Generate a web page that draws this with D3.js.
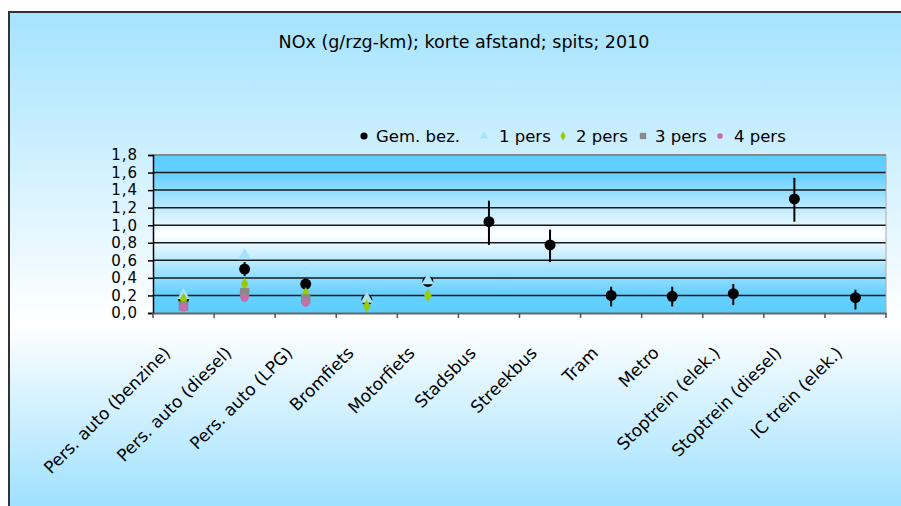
<!DOCTYPE html>
<html><head><meta charset="utf-8">
<script src="https://cdn.jsdelivr.net/npm/d3@7"></script>
<style>body{margin:0;background:#fff;overflow:hidden}svg{display:block}text{font-family:"DejaVu Sans",sans-serif}</style>
</head><body><svg id="c" width="901" height="506"></svg>
<script>
const title = "NOx (g/rzg-km); korte afstand; spits; 2010";
const categories = ["Pers. auto (benzine)","Pers. auto (diesel)","Pers. auto (LPG)","Bromfiets","Motorfiets","Stadsbus","Streekbus","Tram","Metro","Stoptrein (elek.)","Stoptrein (diesel)","IC trein (elek.)"];
const gemBez   = [0.16, 0.50, 0.33, 0.15, 0.36, 1.04, 0.775, 0.20, 0.19, 0.22, 1.30, 0.175];
const gemLow   = [0.13, 0.42, 0.28, 0.13, 0.34, 0.775, 0.58, 0.075, 0.075, 0.09, 1.04, 0.04];
const gemHigh  = [0.19, 0.58, 0.39, 0.17, 0.38, 1.28, 0.95, 0.30, 0.30, 0.33, 1.54, 0.265];
const pers1 = [0.20, 0.655, 0.46, 0.16, 0.37, null, null, null, null, null, null, null];
const pers2 = [0.155, 0.33, 0.22, 0.08, 0.20, null, null, null, null, null, null, null];
const pers3 = [0.08, 0.23, 0.16, null, null, null, null, null, null, null, null, null];
const pers4 = [0.065, 0.175, 0.12, null, null, null, null, null, null, null, null, null];
const seriesNames = ["Gem. bez.","1 pers","2 pers","3 pers","4 pers"];
const yTicks = [0,0.2,0.4,0.6,0.8,1.0,1.2,1.4,1.6,1.8];

const svg = d3.select("#c");
const defs = svg.append("defs");
const bg = defs.append("linearGradient").attr("id","bg").attr("gradientUnits","userSpaceOnUse")
  .attr("x1",0).attr("y1",12).attr("x2",0).attr("y2",506);
bg.append("stop").attr("offset","0%").attr("stop-color","#a5e3ff");
bg.append("stop").attr("offset","63%").attr("stop-color","#ffffff");
bg.append("stop").attr("offset","100%").attr("stop-color","#9fe1ff");
const pg = defs.append("linearGradient").attr("id","pg").attr("x1",0).attr("y1",0).attr("x2",0).attr("y2",1);
pg.append("stop").attr("offset","0%").attr("stop-color","#5ccdfe");
pg.append("stop").attr("offset","12%").attr("stop-color","#66d0ff");
pg.append("stop").attr("offset","50%").attr("stop-color","#ffffff");
pg.append("stop").attr("offset","88%").attr("stop-color","#66d0ff");
pg.append("stop").attr("offset","100%").attr("stop-color","#5ccdfe");

svg.append("rect").attr("x",9).attr("y",12).attr("width",1000).attr("height",600)
  .attr("fill","url(#bg)").attr("stroke","#333").attr("stroke-width",2);

svg.append("text").attr("x",464).attr("y",48).attr("text-anchor","middle")
  .attr("font-size",17.5).attr("fill","#000").text(title);

const L=153, R=886, T=155, B=313;
const x = d3.scaleBand().domain(categories).range([L,R]);
const y = d3.scaleLinear().domain([0,1.8]).range([B,T]);

svg.append("rect").attr("x",L).attr("y",T).attr("width",R-L).attr("height",B-T).attr("fill","url(#pg)");
const g = svg.append("g");
g.selectAll("line.grid").data(yTicks.filter(d=>d>0 && d<1.8)).join("line")
  .attr("x1",L).attr("x2",R).attr("y1",d=>y(d)).attr("y2",d=>y(d))
  .attr("stroke","#1a1a1a").attr("stroke-width",1.5);
g.append("line").attr("x1",L).attr("x2",R).attr("y1",T).attr("y2",T).attr("stroke","#888").attr("stroke-width",2);
g.append("line").attr("x1",R).attr("x2",R).attr("y1",T).attr("y2",B).attr("stroke","#aaa").attr("stroke-width",1);

// axes
const yAxis = d3.axisLeft(y).tickValues(yTicks).tickSize(5).tickPadding(10)
  .tickFormat(d=>d3.format(".1f")(d).replace(".",","));
const ya = svg.append("g").attr("transform",`translate(${L},0)`).call(yAxis);
ya.select(".domain").attr("stroke","#000").attr("stroke-width",1.5);
ya.selectAll(".tick line").attr("stroke","#000").attr("stroke-width",1.5);
ya.selectAll("text").attr("font-size",15).attr("letter-spacing",1).attr("fill","#000").attr("font-family","DejaVu Sans");

const xAxis = d3.axisBottom(x).tickSize(0).tickFormat("");
const xa = svg.append("g").attr("transform",`translate(0,${B})`).call(xAxis);
xa.select(".domain").attr("stroke","#666").attr("stroke-width",2);
svg.selectAll("line.xt").data(d3.range(categories.length+1)).join("line")
  .attr("x1",i=>L+i*x.step()).attr("x2",i=>L+i*x.step()).attr("y1",B).attr("y2",B+5)
  .attr("stroke","#555").attr("stroke-width",1.5);

svg.selectAll("text.cat").data(categories).join("text")
  .attr("class","cat").attr("font-size",17).attr("text-anchor","end").attr("fill","#000")
  .attr("transform",d=>`translate(${x(d)+x.bandwidth()/2-12},354) rotate(-45)`).text(d=>d);

const cx = i => x(categories[i]) + x.bandwidth()/2;
// error bars
svg.selectAll("line.err").data(gemBez.map((v,i)=>i)).join("line")
  .attr("x1",cx).attr("x2",cx).attr("y1",i=>y(gemLow[i])).attr("y2",i=>y(gemHigh[i]))
  .attr("stroke","#000").attr("stroke-width",2);
// Gem bez
svg.selectAll("circle.gem").data(gemBez).join("circle")
  .attr("cx",(d,i)=>cx(i)).attr("cy",d=>y(d)).attr("r",5.5).attr("fill","#000");

const sym = (type,size) => d3.symbol().type(type).size(size)();
function drawSeries(vals, type, size, color){
  svg.append("g").selectAll("path").data(vals.map((v,i)=>[v,i]).filter(d=>d[0]!==null)).join("path")
    .attr("transform",d=>`translate(${cx(d[1])},${y(d[0])})`).attr("d",sym(type,size)).attr("fill",color);
}
drawSeries(pers1, d3.symbolTriangle, 70, "#a6e2fa");
drawSeries(pers2, d3.symbolDiamond, 50, "#99cc00");
drawSeries(pers3, d3.symbolSquare, 90, "#8a8a8a");
drawSeries(pers4, d3.symbolCircle, 55, "#c56fa9");

// legend
const legX = [364, 484, 563, 643, 720];
const legT = [376, 499, 576, 655, 734];
const legY = 136;
const legTypes = [d3.symbolCircle, d3.symbolTriangle, d3.symbolDiamond, d3.symbolSquare, d3.symbolCircle];
const legSizes = [40, 30, 25, 40, 25];
const legColors = ["#000","#a6e2fa","#99cc00","#8a8a8a","#c56fa9"];
const lg = svg.append("g");
lg.selectAll("path").data(seriesNames).join("path")
  .attr("transform",(d,i)=>`translate(${legX[i]},${legY})`)
  .attr("d",(d,i)=>sym(legTypes[i],legSizes[i])).attr("fill",(d,i)=>legColors[i]);
lg.selectAll("text").data(seriesNames).join("text")
  .attr("x",(d,i)=>legT[i]).attr("y",legY+6).attr("font-size",16.5).attr("fill","#000").text(d=>d);
</script></body></html>
